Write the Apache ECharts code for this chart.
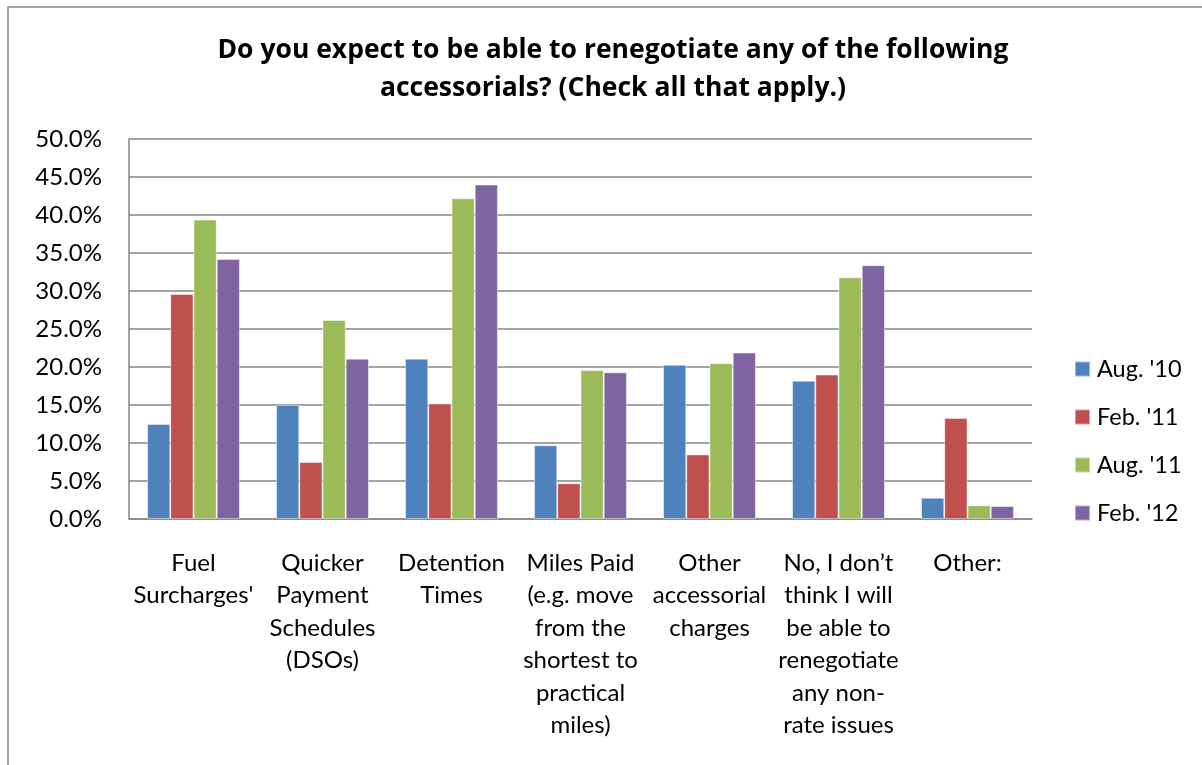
<!DOCTYPE html>
<html>
<head>
<meta charset="utf-8">
<script src="https://cdn.jsdelivr.net/npm/echarts@6/dist/echarts.min.js"></script>
<style>
  html, body { margin: 0; padding: 0; background: #fff; }
  #chart { width: 1202px; height: 765px; }
</style>
</head>
<body>
<div id="chart"></div>
<script>
// Survey answers, share of respondents (%)
const categories = [
  "Fuel\nSurcharges'",
  "Quicker\nPayment\nSchedules\n(DSOs)",
  "Detention\nTimes",
  "Miles Paid\n(e.g. move\nfrom the\nshortest to\npractical\nmiles)",
  "Other\naccessorial\ncharges",
  "No, I don\u2019t\nthink I will\nbe able to\nrenegotiate\nany non-\nrate issues",
  "Other:"
];
const seriesNames = ["Aug. '10", "Feb. '11", "Aug. '11", "Feb. '12"];
const aug10 = [12.5, 15.0, 21.1, 9.7, 20.3, 18.2, 2.8];
const feb11 = [29.6, 7.5, 15.2, 4.7, 8.5, 19.0, 13.3];
const aug11 = [39.4, 26.2, 42.2, 19.6, 20.5, 31.8, 1.8];
const feb12 = [34.2, 21.1, 44.0, 19.3, 21.9, 33.4, 1.7];
const colors = ['#4F81BD', '#C0504D', '#9BBB59', '#8064A2'];

const font = 'Lato, "Open Sans", sans-serif';
const titleFont = '"Open Sans", Lato, sans-serif';
const chart = echarts.init(document.getElementById('chart'));

const values = [aug10, feb11, aug11, feb12];
chart.setOption({
  animation: false,
  backgroundColor: '#fff',
  color: colors,
  title: {
    text: 'Do you expect to be able to renegotiate any of the following\naccessorials? (Check all that apply.)',
    left: 608,
    textAlign: 'center',
    top: 26,
    textStyle: { fontFamily: titleFont, fontWeight: 'bold', fontSize: 26.5, lineHeight: 38, color: '#000' }
  },
  graphic: [{
    type: 'rect',
    shape: { x: 8, y: 7, width: 1400, height: 900 },
    style: { fill: 'none', stroke: '#868686', lineWidth: 1.5 },
    silent: true
  }],
  legend: {
    orient: 'vertical',
    left: 1074,
    top: 357,
    padding: 0,
    itemWidth: 15,
    itemHeight: 15,
    itemGap: 24,
    icon: 'rect',
    data: seriesNames,
    textStyle: { fontFamily: font, fontSize: 23.5, color: '#000', padding: [0, 0, 0, 2] }
  },
  grid: { left: 129, right: 170, top: 139, bottom: 246, containLabel: false },
  xAxis: {
    type: 'category',
    data: categories,
    axisLine: { lineStyle: { color: '#868686', width: 1.5 } },
    axisTick: { show: false },
    axisLabel: {
      interval: 0,
      margin: 28,
      fontFamily: font,
      fontSize: 24,
      lineHeight: 32.5,
      color: '#000',
      verticalAlign: 'top',
      align: 'center'
    }
  },
  yAxis: {
    type: 'value',
    min: 0,
    max: 50,
    interval: 5,
    axisLine: { show: true, lineStyle: { color: '#868686', width: 1.5 } },
    axisTick: { show: false },
    splitLine: { lineStyle: { color: '#868686', width: 1.5 } },
    axisLabel: {
      margin: 27,
      fontFamily: font,
      fontSize: 24,
      color: '#000',
      formatter: v => v.toFixed(1) + '%'
    }
  },
  series: seriesNames.map((name, i) => ({
    name,
    type: 'bar',
    data: values[i],
    barGap: '0%',
    barCategoryGap: '28%',
    itemStyle: { color: colors[i], borderColor: 'rgba(255,255,255,0.45)', borderWidth: 1 }
  }))
});
</script>
</body>
</html>
